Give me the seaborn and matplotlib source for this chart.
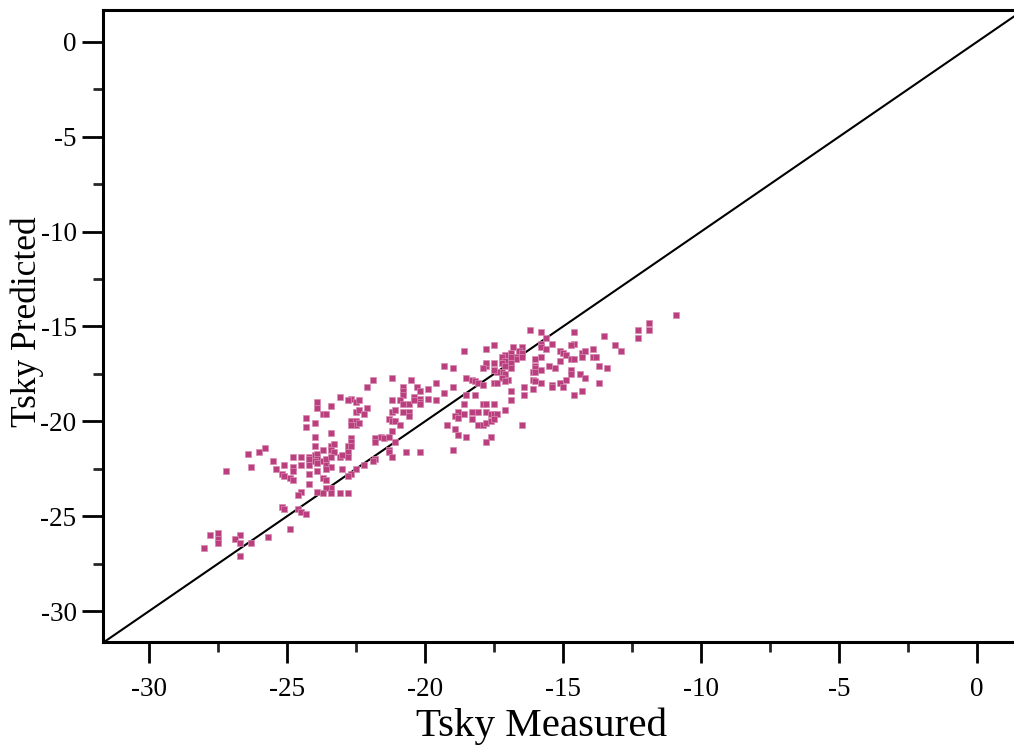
import matplotlib
matplotlib.use("Agg")
import matplotlib.pyplot as plt
from matplotlib.ticker import MultipleLocator
import seaborn as sns
import pandas as pd

measured = [
    -21.9, -21.2, -20.5, -22.1, -20.8, -20.8, -20.8, -20.3, -20.2, -19.9,
    -19.6, -23.1, -22.7, -22.8, -22.5, -22.4, -23.9, -23.9, -23.4, -23.7,
    -23.6, -22.5, -22.4, -22.2, -22.1, -21.2, -20.9, -20.8, -20.6, -20.8,
    -20.6, -20.6, -21.2, -21.1, -20.2, -20.2, -19.9, -19.6, -24.3, -24.3,
    -24.0, -22.7, -22.5, -22.5, -22.7, -22.4, -21.3, -21.2, -21.1, -20.9,
    -21.2, -23.4, -24.0, -22.7, -22.7, -21.8, -21.6, -21.5, -21.3, -21.8,
    -21.1, -24.0, -23.7, -23.4, -23.3, -23.4, -23.3, -22.8, -22.7, -21.3,
    -21.3, -20.7, -20.2, -21.2, -21.8, -26.4, -26.0, -25.8, -25.5, -24.8,
    -24.5, -24.2, -24.0, -23.9, -24.2, -23.9, -24.8, -24.5, -24.2, -24.0,
    -23.9, -23.7, -23.6, -23.4, -23.1, -23.0, -22.8, -22.8, -23.6, -23.4,
    -23.6, -25.1, -25.4, -25.2, -25.1, -24.9, -24.8, -24.8, -27.2, -26.3,
    -24.2, -23.9, -23.0, -22.5, -22.7, -22.8, -23.7, -23.6, -23.4, -23.6,
    -24.2, -23.9, -23.7, -23.4, -23.1, -22.8, -24.5, -24.6, -22.2, -21.9,
    -25.2, -25.1, -24.6, -24.5, -24.3, -24.9, -25.7, -26.3, -26.7, -26.9,
    -26.7, -27.5, -27.5, -27.5, -27.8, -28.0, -26.7,
    -10.9, -11.9, -11.9, -12.3, -12.3, -13.5, -14.6, -16.2, -15.8, -15.6,
    -15.4, -14.6, -14.7, -17.5, -17.8, -18.6, -16.8, -16.5, -16.6, -16.5,
    -16.7, -16.5, -16.7, -16.9, -17.1, -17.2, -16.9, -17.1, -16.9, -17.2,
    -17.1, -16.9, -17.2, -17.1, -17.2, -17.4, -17.5, -17.5, -17.8, -17.8,
    -15.8, -15.8, -15.6, -16.0, -15.8, -15.1, -15.0, -14.9, -14.7, -14.6,
    -15.1, -14.3, -14.3, -14.2, -13.9, -13.9, -13.8, -13.1, -12.9, -13.7,
    -13.4, -15.5, -15.3, -16.0, -16.0, -16.1, -16.0, -15.8, -14.7, -14.7,
    -14.4, -14.2, -16.1, -16.0, -15.8, -15.4, -15.4, -15.1, -15.0, -14.9,
    -14.3, -13.7, -14.6, -16.1, -16.4, -16.4, -19.3, -19.0, -19.3, -19.0,
    -20.4, -20.4, -20.2, -18.5, -18.3, -18.2, -18.1, -17.9, -18.5, -18.2,
    -18.6, -18.8, -18.6, -18.9, -18.8, -18.3, -18.3, -18.1, -17.9, -17.8,
    -17.5, -17.8, -17.6, -17.5, -17.4, -18.1, -17.9, -17.8, -17.6, -17.5,
    -17.1, -16.9, -16.9, -19.2, -18.9, -18.8, -18.5, -17.6, -17.8, -19.0,
    -16.5, -17.5, -17.4, -17.9, -17.0, -17.1,
]

predicted = [
    -17.8, -17.7, -17.8, -18.2, -18.2, -18.4, -18.6, -18.2, -18.4, -18.3,
    -18.0, -18.7, -18.8, -18.9, -19.0, -18.9, -19.0, -19.3, -19.2, -19.6,
    -19.6, -19.5, -19.4, -19.6, -19.3, -18.9, -18.9, -19.1, -19.1, -19.5,
    -19.5, -19.7, -19.5, -19.4, -18.8, -19.0, -18.8, -18.9, -19.8, -20.3,
    -20.1, -20.0, -20.0, -20.2, -20.2, -20.1, -19.9, -20.0, -20.0, -20.2,
    -20.5, -20.6, -20.8, -20.9, -21.1, -20.9, -20.8, -20.9, -20.8, -21.1,
    -21.1, -21.3, -21.5, -21.3, -21.2, -21.5, -21.6, -21.3, -21.3, -21.5,
    -21.6, -21.6, -21.6, -21.9, -22.0, -21.7, -21.6, -21.4, -22.1, -21.9,
    -21.9, -21.9, -21.8, -21.7, -22.0, -22.0, -22.4, -22.3, -22.3, -22.1,
    -22.2, -22.1, -22.0, -21.9, -21.9, -21.8, -21.6, -21.9, -22.3, -22.4,
    -22.5, -22.3, -22.5, -22.8, -22.9, -23.0, -22.6, -23.1, -22.6, -22.4,
    -22.8, -22.6, -22.5, -22.5, -22.8, -22.9, -23.0, -23.1, -23.5, -23.5,
    -23.3, -23.7, -23.8, -23.8, -23.8, -23.8, -23.7, -23.9, -22.3, -22.1,
    -24.5, -24.6, -24.6, -24.8, -24.9, -25.7, -26.1, -26.4, -26.0, -26.2,
    -26.4, -25.9, -26.2, -26.4, -26.0, -26.7, -27.1,
    -14.4, -14.8, -15.2, -15.2, -15.6, -15.5, -15.3, -15.2, -15.3, -15.6,
    -15.9, -15.9, -16.0, -16.0, -16.2, -16.3, -16.1, -16.1, -16.3, -16.4,
    -16.6, -16.6, -16.7, -16.4, -16.5, -16.6, -16.6, -16.8, -16.9, -16.9,
    -17.1, -17.2, -17.4, -17.5, -17.7, -17.4, -16.9, -17.3, -17.1, -16.9,
    -15.9, -16.1, -16.2, -16.7, -16.6, -16.3, -16.4, -16.5, -16.7, -16.7,
    -16.8, -16.4, -16.6, -16.3, -16.2, -16.6, -16.6, -16.0, -16.3, -17.1,
    -17.2, -17.1, -17.2, -17.1, -17.2, -17.4, -17.4, -17.3, -17.3, -17.5,
    -17.5, -17.7, -17.8, -17.9, -18.0, -18.1, -18.2, -18.0, -18.2, -17.8,
    -18.4, -18.0, -18.6, -18.3, -18.2, -18.6, -17.1, -17.2, -18.5, -18.2,
    -18.7, -18.9, -19.1, -17.7, -17.8, -17.9, -18.0, -18.1, -18.6, -18.6,
    -19.1, -19.5, -19.6, -19.7, -19.8, -19.5, -19.9, -19.5, -19.1, -19.1,
    -19.1, -19.5, -19.6, -19.6, -19.6, -20.2, -20.2, -20.1, -20.0, -19.9,
    -19.4, -18.4, -18.9, -20.2, -20.4, -20.7, -20.8, -20.8, -21.1, -21.5,
    -20.2, -18.0, -18.0, -17.2, -17.8, -17.9,
]

x_label = "Tsky Measured"
y_label = "Tsky Predicted"
x_limits = (-31.67, 1.34)
y_limits = (-31.63, 1.68)

df = pd.DataFrame({"measured": measured, "predicted": predicted})

sns.set_style("ticks")
plt.rcParams["font.family"] = ["Liberation Serif", "DejaVu Serif"]
plt.rcParams["axes.unicode_minus"] = False
plt.rcParams["text.color"] = "black"
plt.rcParams["axes.labelcolor"] = "black"

fig = plt.figure(figsize=(10.14, 7.49), dpi=100)
ax = fig.add_axes([103 / 1014, 107 / 749, 911 / 1014, 632 / 749])

ax.axline((0, 0), slope=1, color="black", lw=1.5, zorder=1)
sns.scatterplot(data=df, x="measured", y="predicted", ax=ax, marker="s",
                s=19, color="#BA3F7F", edgecolor="#D78AB0", linewidth=0.5,
                zorder=2)

ax.set_xlim(*x_limits)
ax.set_ylim(*y_limits)
ax.xaxis.set_major_locator(MultipleLocator(5))
ax.xaxis.set_minor_locator(MultipleLocator(2.5))
ax.yaxis.set_major_locator(MultipleLocator(5))
ax.yaxis.set_minor_locator(MultipleLocator(2.5))

for side in ["left", "bottom", "top"]:
    ax.spines[side].set_linewidth(2.2)
    ax.spines[side].set_color("black")
ax.spines["right"].set_visible(False)

ax.tick_params(which="major", direction="out", length=15, width=2.0,
               labelsize=19.5, colors="black", pad=4)
ax.tick_params(which="minor", direction="out", length=7.5, width=2.0)
ax.tick_params(axis="x", which="major", pad=10)
ax.tick_params(top=False, right=False, which="both")

ax.set_xlabel(x_label, fontsize=29.5, va="center", color="black")
ax.xaxis.set_label_coords(0.481, -0.134)
ax.set_ylabel(y_label, fontsize=25.5, va="center", color="black")
ax.yaxis.set_label_coords(-0.083, 0.507)

fig.savefig("out.png", dpi=100)
